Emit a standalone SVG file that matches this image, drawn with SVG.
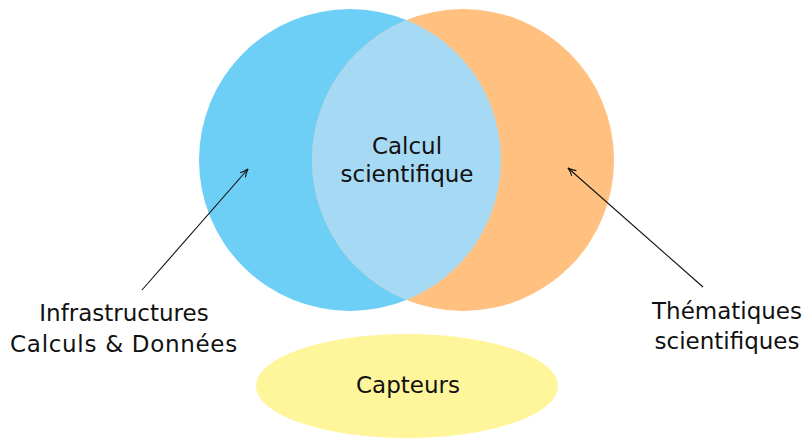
<svg xmlns="http://www.w3.org/2000/svg" width="810" height="438" viewBox="0 0 810 438">
  <style>
    .lbl { font-family: "DejaVu Sans", Lato, sans-serif; font-size: 23px; fill: #111; text-anchor: middle; }
    .conn { stroke: #111; stroke-width: 1.1; fill: none; marker-end: url(#tip); }
  </style>
  <defs>
    <marker id="tip" viewBox="0 0 10 10" refX="9" refY="5" markerWidth="10" markerHeight="10" markerUnits="userSpaceOnUse" orient="auto">
      <path d="M1,1.5 Q5,4 9,5 Q5,6 1,8.5" fill="none" stroke="#111" stroke-width="1.1"/>
    </marker>
    <clipPath id="rightDisc">
      <circle cx="463" cy="160" r="151"/>
    </clipPath>
  </defs>

  <g id="infrastructures">
    <circle cx="350" cy="160" r="151" fill="#6dcff6"/>
  </g>
  <g id="thematiques">
    <circle cx="463" cy="160" r="151" fill="#ffc080"/>
  </g>
  <g id="calcul">
    <circle cx="350" cy="160" r="151" fill="#a6d9f4" clip-path="url(#rightDisc)"/>
    <text class="lbl" x="407" y="154">Calcul</text>
    <text class="lbl" x="407" y="182">scientifique</text>
  </g>
  <g id="capteurs">
    <ellipse cx="407" cy="386" rx="151" ry="52" fill="#fff59b"/>
    <text class="lbl" x="408" y="393">Capteurs</text>
  </g>
  <g id="label-infra">
    <text class="lbl" x="124" y="321">Infrastructures</text>
    <text class="lbl" x="124" y="352" letter-spacing="0.7">Calculs &amp; Données</text>
  </g>
  <g id="label-them">
    <text class="lbl" x="727" y="319">Thématiques</text>
    <text class="lbl" x="727" y="349">scientifiques</text>
  </g>

  <g id="connectors">
    <line class="conn" x1="142" y1="290" x2="248" y2="169"/>
    <line class="conn" x1="703" y1="287" x2="568" y2="168"/>
  </g>
</svg>
